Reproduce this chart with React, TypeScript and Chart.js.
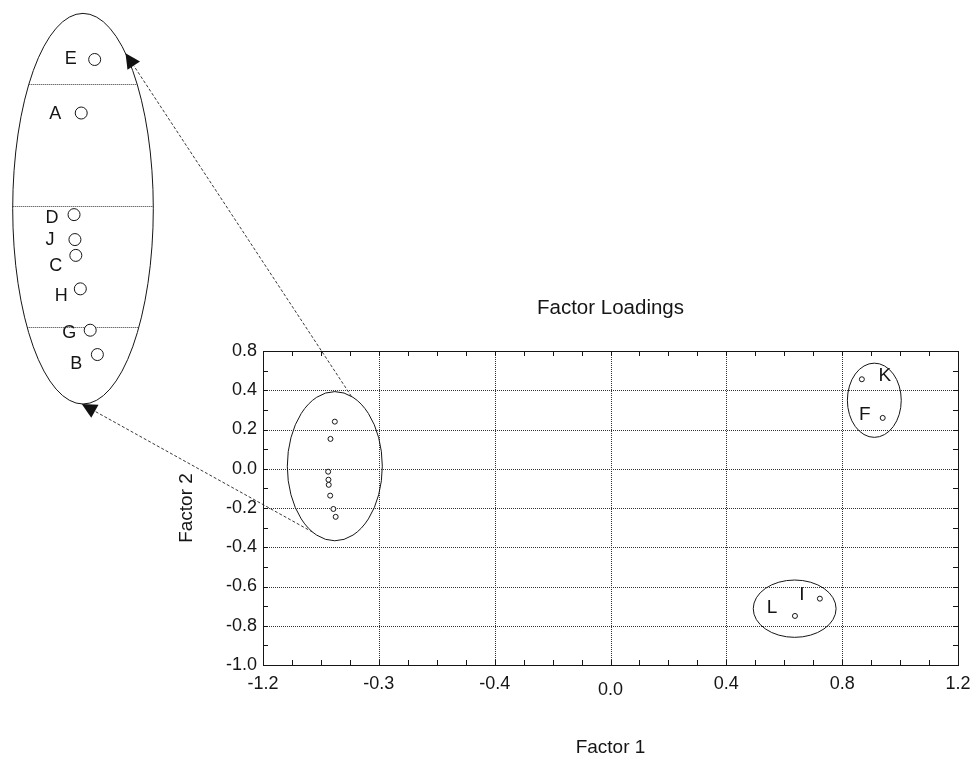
import React, { useEffect, useRef } from 'react';
import { Chart, registerables } from 'chart.js';

Chart.register(...registerables);

const FONT = '"Liberation Sans", Arial, Helvetica, sans-serif';
const INK = '#151515';

// ---- data ----
const POINT_NAMES = ['E', 'A', 'D', 'J', 'C', 'H', 'G', 'B', 'K', 'F', 'L', 'I'];
const FACTOR_1 = [-0.952, -0.967, -0.975, -0.974, -0.973, -0.968, -0.957, -0.949, 0.868, 0.94, 0.637, 0.723];
const FACTOR_2 = [0.24, 0.152, -0.015, -0.056, -0.082, -0.137, -0.205, -0.245, 0.456, 0.259, -0.75, -0.662];
const INSET_NAMES = ['E', 'A', 'D', 'J', 'C', 'H', 'G', 'B'];

const X_TICK_VALUES = [-1.2, -0.8, -0.4, 0, 0.4, 0.8, 1.2];
const X_TICK_LABELS = ['-1.2', '-0.3', '-0.4', '0.0', '0.4', '0.8', '1.2'];
const Y_TICK_VALUES = [-1.0, -0.8, -0.6, -0.4, -0.2, 0, 0.2, 0.4, 0.6];
const Y_TICK_LABELS = ['-1.0', '-0.8', '-0.6', '-0.4', '-0.2', '0.0', '0.2', '0.4', '0.8'];
const X_MIN = -1.2;
const X_MAX = 1.2;
const Y_MIN = -1.0;
const Y_MAX = 0.6;
const MINOR_STEP = 0.1;

// cluster ellipses (data units)
const CLUSTER_CX = [-0.952, 0.911, 0.636];
const CLUSTER_CY = [0.013, 0.349, -0.713];
const CLUSTER_RX = [0.164, 0.093, 0.143];
const CLUSTER_RY = [0.38, 0.189, 0.146];

// ---- layout / style (pixels) ----
const LABEL_OFFSET: Record<string, [number, number]> = {
  K: [23, -3], F: [-18, -3], L: [-23, -8], I: [-18, -4],
};
const INSET_LABEL_OFFSET: Record<string, [number, number]> = {
  E: [-24, 0], A: [-26, 1], D: [-22, 3], J: [-25, 0], C: [-20, 11], H: [-19, 7], G: [-21, 3], B: [-21, 9],
};
const INSET_ANCHOR_DATA: [number, number] = [-0.96, 0];
const INSET_ANCHOR_PX: [number, number] = [87.5, 205.5];
const INSET_MAG = 3.1;
const INSET_ELLIPSE = { cx: 83, cy: 208.7, rx: 70.3, ry: 195.3 };
const ARROWS = [
  { from: -69.6, to: -52.8 },
  { from: 118, to: 91 },
];

function strokeLine(ctx: CanvasRenderingContext2D, x0: number, y0: number, x1: number, y1: number) {
  ctx.beginPath();
  ctx.moveTo(x0, y0);
  ctx.lineTo(x1, y1);
  ctx.stroke();
}

function clusterPx(chart: any, i: number) {
  const { x, y } = chart.scales;
  const cx = x.getPixelForValue(CLUSTER_CX[i]);
  const cy = y.getPixelForValue(CLUSTER_CY[i]);
  const rx = Math.abs(x.getPixelForValue(CLUSTER_CX[i] + CLUSTER_RX[i]) - cx);
  const ry = Math.abs(y.getPixelForValue(CLUSTER_CY[i] - CLUSTER_RY[i]) - cy);
  return { cx, cy, rx, ry };
}

const decorPlugin = {
  id: 'decor',
  beforeDatasetsDraw(chart: any) {
    const { ctx, chartArea: a } = chart;
    const { x, y } = chart.scales;
    ctx.save();
    // dotted grid
    ctx.strokeStyle = '#333';
    ctx.lineWidth = 1;
    ctx.setLineDash([1, 1]);
    for (const v of X_TICK_VALUES) {
      if (v <= X_MIN || v >= X_MAX) continue;
      const px = Math.round(x.getPixelForValue(v)) + 0.5;
      strokeLine(ctx, px, a.top, px, a.bottom);
    }
    for (const v of Y_TICK_VALUES) {
      if (v <= Y_MIN || v >= Y_MAX) continue;
      const py = Math.round(y.getPixelForValue(v)) + 0.5;
      strokeLine(ctx, a.left, py, a.right, py);
    }
    ctx.setLineDash([]);
    // inward minor ticks
    ctx.strokeStyle = INK;
    const nx = Math.round((X_MAX - X_MIN) / MINOR_STEP);
    for (let i = 0; i <= nx; i++) {
      const px = Math.round(x.getPixelForValue(X_MIN + i * MINOR_STEP)) + 0.5;
      strokeLine(ctx, px, a.bottom, px, a.bottom - 5);
      strokeLine(ctx, px, a.top, px, a.top + 5);
    }
    const ny = Math.round((Y_MAX - Y_MIN) / MINOR_STEP);
    for (let i = 0; i <= ny; i++) {
      const py = Math.round(y.getPixelForValue(Y_MIN + i * MINOR_STEP)) + 0.5;
      strokeLine(ctx, a.left, py, a.left + 5, py);
      strokeLine(ctx, a.right, py, a.right - 5, py);
    }
    // frame
    ctx.lineWidth = 1;
    ctx.strokeRect(Math.round(a.left) + 0.5, Math.round(a.top) + 0.5, Math.round(a.right - a.left), Math.round(a.bottom - a.top));
    // cluster ellipses
    for (let i = 0; i < CLUSTER_CX.length; i++) {
      const e = clusterPx(chart, i);
      ctx.beginPath();
      ctx.ellipse(e.cx, e.cy, e.rx, e.ry, 0, 0, Math.PI * 2);
      ctx.stroke();
    }
    ctx.restore();
  },
  afterDatasetsDraw(chart: any) {
    const { ctx } = chart;
    const { x, y } = chart.scales;
    ctx.save();
    ctx.fillStyle = INK;
    ctx.strokeStyle = INK;
    ctx.textAlign = 'center';
    ctx.textBaseline = 'middle';
    // labels in main plot
    ctx.font = `19px ${FONT}`;
    POINT_NAMES.forEach((name, i) => {
      const off = LABEL_OFFSET[name];
      if (!off) return;
      const px = x.getPixelForValue(FACTOR_1[i]);
      const py = y.getPixelForValue(FACTOR_2[i]);
      ctx.fillText(name, px + off[0], py + off[1]);
    });

    // inset (magnified view of the left cluster)
    const ax = x.getPixelForValue(INSET_ANCHOR_DATA[0]);
    const ay = y.getPixelForValue(INSET_ANCHOR_DATA[1]);
    const ix = (v: number) => INSET_ANCHOR_PX[0] + INSET_MAG * (x.getPixelForValue(v) - ax);
    const iy = (v: number) => INSET_ANCHOR_PX[1] + INSET_MAG * (y.getPixelForValue(v) - ay);
    const E = INSET_ELLIPSE;

    ctx.save();
    ctx.beginPath();
    ctx.ellipse(E.cx, E.cy, E.rx, E.ry, 0, 0, Math.PI * 2);
    ctx.clip();
    ctx.strokeStyle = '#333';
    ctx.setLineDash([1, 1]);
    ctx.lineWidth = 1;
    for (const v of Y_TICK_VALUES) {
      const py = Math.round(iy(v)) + 0.5;
      strokeLine(ctx, E.cx - E.rx, py, E.cx + E.rx, py);
    }
    ctx.restore();

    ctx.lineWidth = 1;
    ctx.beginPath();
    ctx.ellipse(E.cx, E.cy, E.rx, E.ry, 0, 0, Math.PI * 2);
    ctx.stroke();

    ctx.font = `18px ${FONT}`;
    POINT_NAMES.forEach((name, i) => {
      if (!INSET_NAMES.includes(name)) return;
      const px = ix(FACTOR_1[i]);
      const py = iy(FACTOR_2[i]);
      ctx.beginPath();
      ctx.arc(px, py, 6, 0, Math.PI * 2);
      ctx.fillStyle = '#fff';
      ctx.fill();
      ctx.stroke();
      const off = INSET_LABEL_OFFSET[name];
      ctx.fillStyle = INK;
      ctx.fillText(name, px + off[0], py + off[1]);
    });

    // arrows from the cluster ellipse to the inset
    const m = clusterPx(chart, 0);
    for (const ar of ARROWS) {
      const t0 = (ar.from * Math.PI) / 180;
      const t1 = (ar.to * Math.PI) / 180;
      const x0 = m.cx + m.rx * Math.cos(t0);
      const y0 = m.cy + m.ry * Math.sin(t0);
      const x1 = E.cx + E.rx * Math.cos(t1);
      const y1 = E.cy + E.ry * Math.sin(t1);
      const ang = Math.atan2(y1 - y0, x1 - x0);
      const head = 15;
      const hw = 7.5;
      const bx = x1 - head * Math.cos(ang);
      const by = y1 - head * Math.sin(ang);
      ctx.strokeStyle = '#222';
      ctx.lineWidth = 0.9;
      ctx.setLineDash([3, 2]);
      strokeLine(ctx, x0, y0, bx, by);
      ctx.setLineDash([]);
      ctx.beginPath();
      ctx.moveTo(x1, y1);
      ctx.lineTo(bx + hw * Math.sin(ang), by - hw * Math.cos(ang));
      ctx.lineTo(bx - hw * Math.sin(ang), by + hw * Math.cos(ang));
      ctx.closePath();
      ctx.fillStyle = '#111';
      ctx.fill();
    }
    ctx.restore();
  },
};

export default function App() {
  const ref = useRef<HTMLCanvasElement | null>(null);

  useEffect(() => {
    const canvas = ref.current;
    if (!canvas) return;
    const chart = new Chart(canvas, {
      type: 'scatter',
      data: {
        datasets: [
          {
            label: 'Factor Loadings',
            data: FACTOR_1.map((v, i) => ({ x: v, y: FACTOR_2[i] })),
            pointRadius: 2.5,
            pointHoverRadius: 2.5,
            pointBorderWidth: 1,
            pointBorderColor: INK,
            pointBackgroundColor: '#fff',
            showLine: false,
          },
        ],
      },
      options: {
        responsive: false,
        animation: false,
        devicePixelRatio: 1,
        events: [],
        layout: { padding: { left: 0, right: 14, top: 0, bottom: 0 } },
        plugins: {
          legend: { display: false },
          tooltip: { enabled: false },
          title: {
            display: true,
            text: 'Factor Loadings',
            fullSize: false,
            color: INK,
            font: { family: FONT, size: 20.5, weight: 'normal', lineHeight: '24px' },
            padding: { top: 296, bottom: 31 },
          },
        },
        scales: {
          x: {
            type: 'linear',
            min: X_MIN,
            max: X_MAX,
            grid: { display: false, drawTicks: false },
            border: { display: false },
            afterBuildTicks: (s: any) => {
              s.ticks = X_TICK_VALUES.map((v) => ({ value: v }));
            },
            afterFit: (s: any) => {
              s.height = 95;
              s.paddingLeft = 0;
              s.paddingRight = 0;
            },
            ticks: {
              autoSkip: false,
              maxRotation: 0,
              padding: 8,
              color: INK,
              font: (c: any) => ({
                family: FONT,
                size: 18,
                lineHeight: c.tick && c.tick.value === 0 ? '34px' : '22px',
              }),
              callback: (_v: any, i: number) => X_TICK_LABELS[i],
            },
            title: {
              display: true,
              text: 'Factor 1',
              color: INK,
              font: { family: FONT, size: 19 },
              padding: { top: 0, bottom: 1 },
            },
          },
          y: {
            type: 'linear',
            min: Y_MIN,
            max: Y_MAX,
            grid: { display: false, drawTicks: false },
            border: { display: false },
            afterBuildTicks: (s: any) => {
              s.ticks = Y_TICK_VALUES.map((v) => ({ value: v }));
            },
            afterFit: (s: any) => {
              s.width = 263;
              s.paddingTop = 0;
              s.paddingBottom = 0;
            },
            ticks: {
              autoSkip: false,
              padding: 6,
              color: INK,
              font: { family: FONT, size: 18 },
              callback: (_v: any, i: number) => Y_TICK_LABELS[i],
            },
            title: {
              display: true,
              text: 'Factor 2',
              color: INK,
              font: { family: FONT, size: 19 },
              padding: { top: 175.6, bottom: 0 },
            },
          },
        },
      },
      plugins: [decorPlugin],
    });
    return () => chart.destroy();
  }, []);

  return (
    <div style={{ position: 'absolute', left: 0, top: 0, width: 972, height: 760, background: '#fff' }}>
      <canvas ref={ref} width={972} height={760} style={{ display: 'block' }} />
    </div>
  );
}
